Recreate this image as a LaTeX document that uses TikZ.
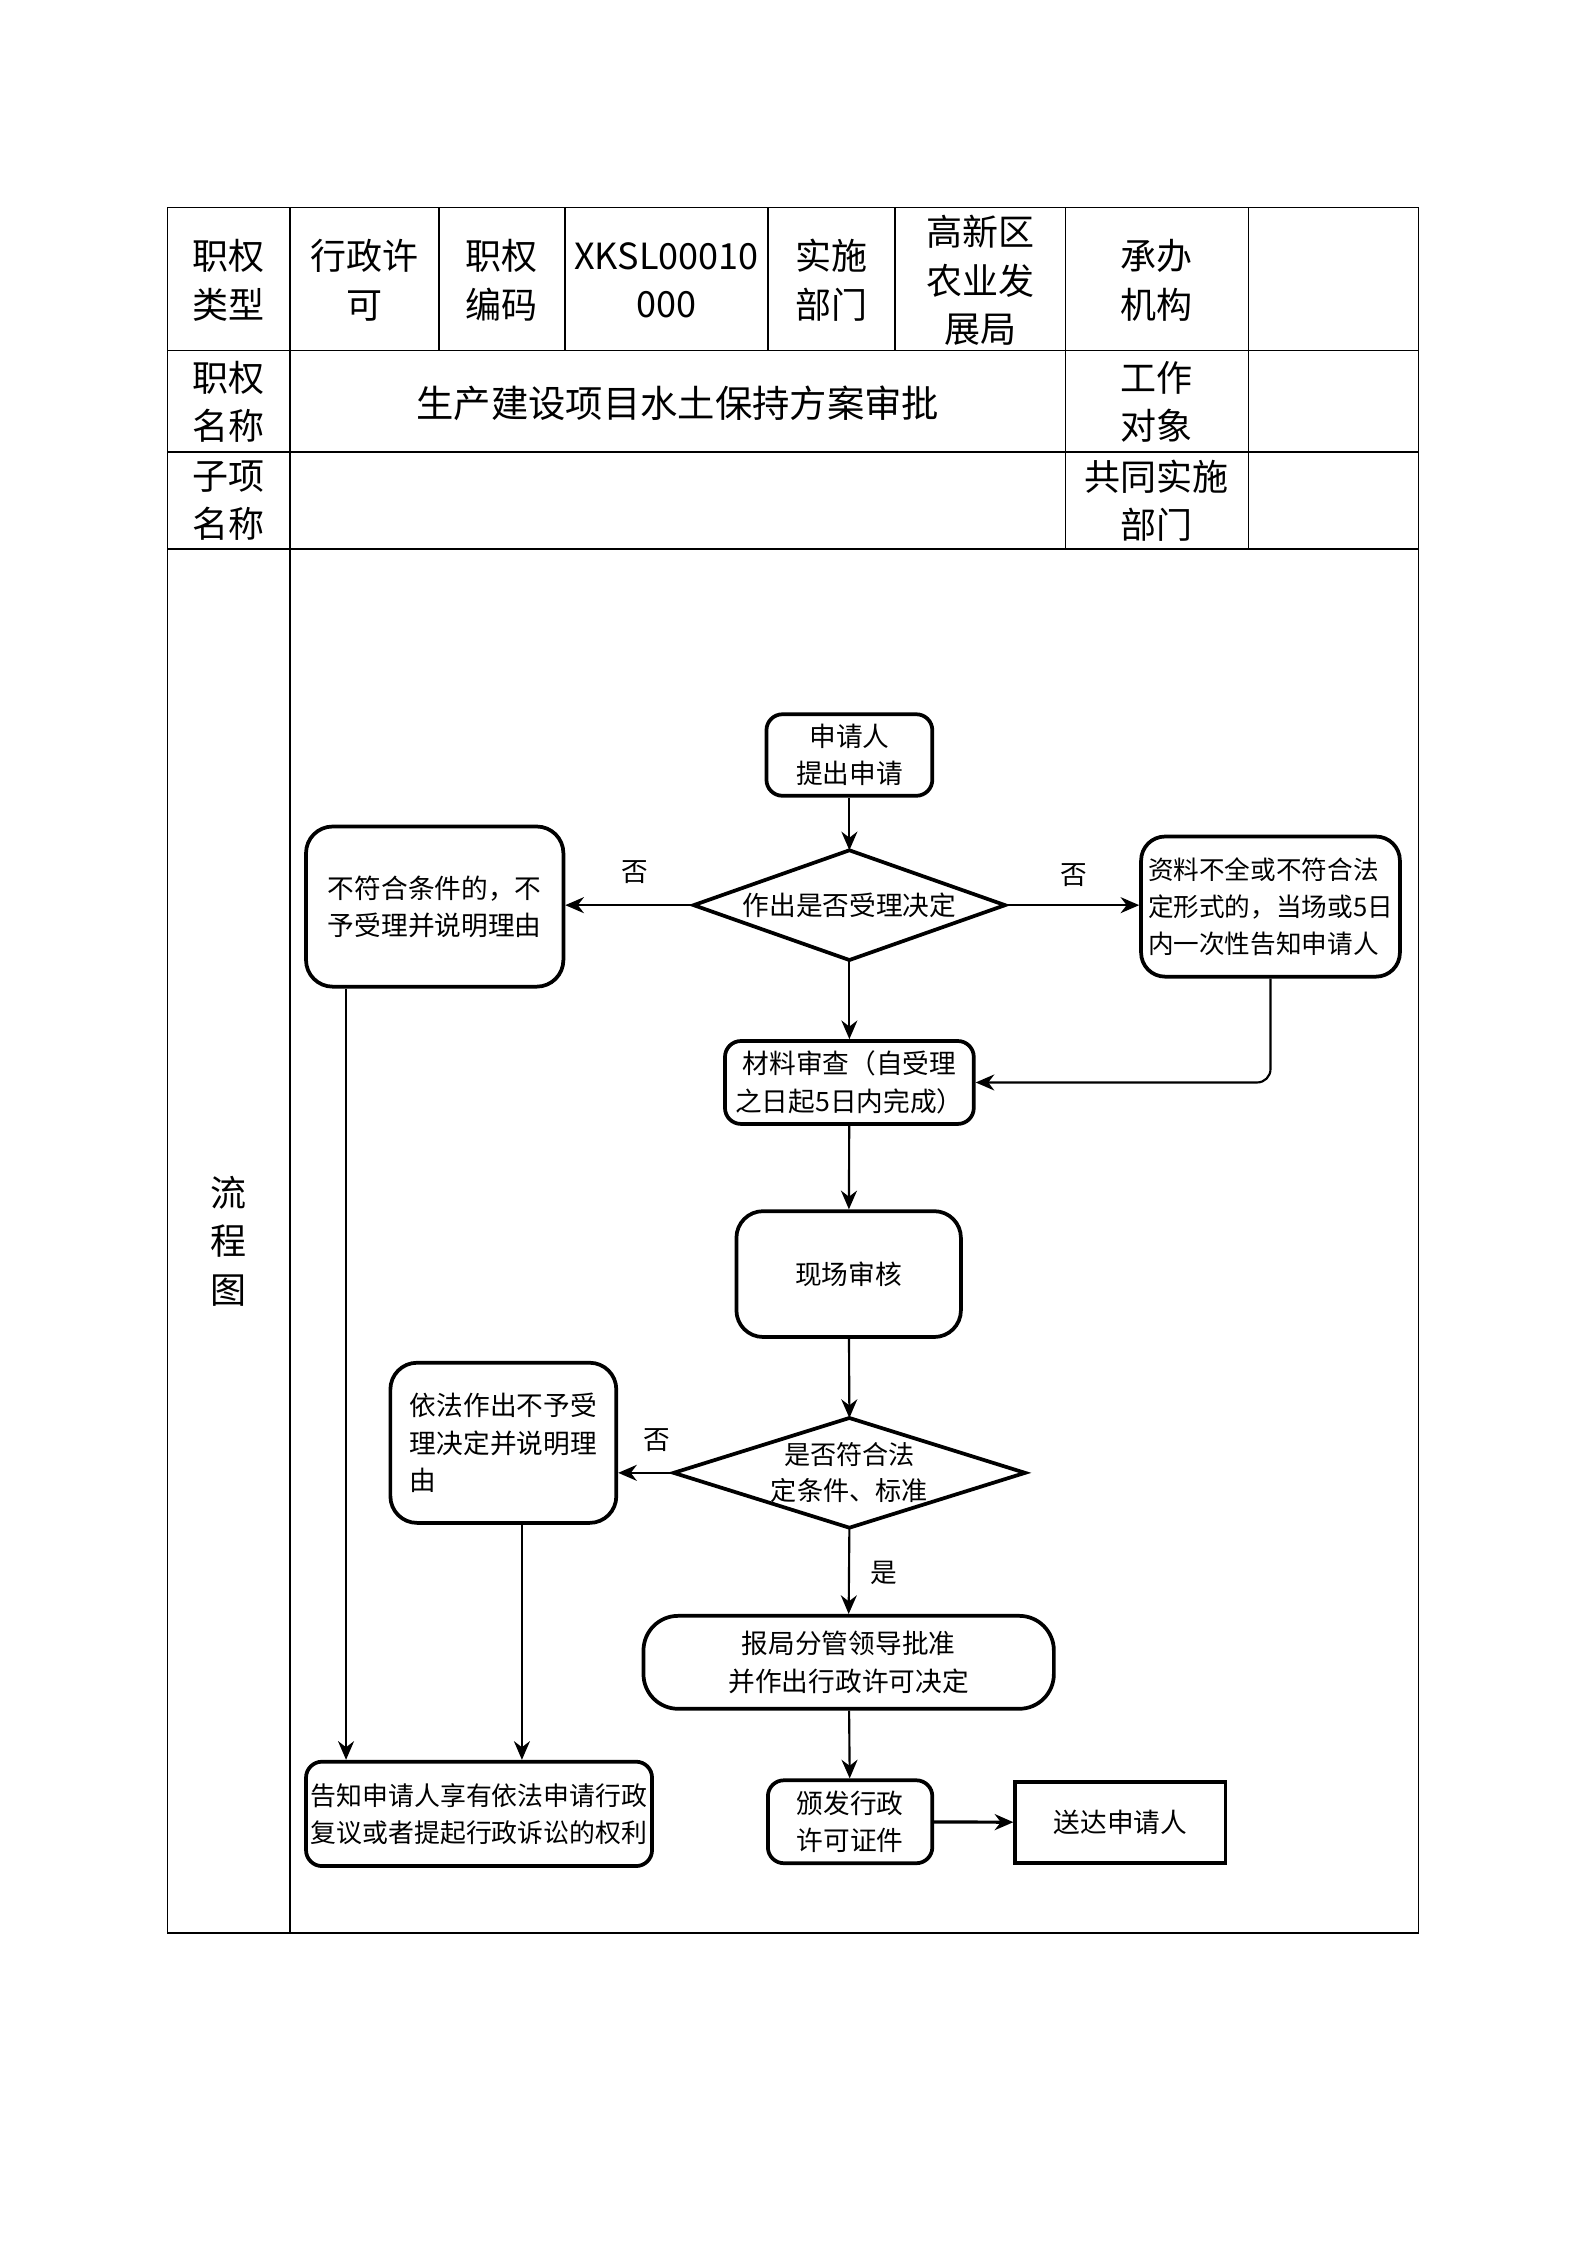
\documentclass[tikz,border=0pt]{standalone}
\usepackage{fontspec}
\setmainfont{Noto Sans CJK SC}
\usetikzlibrary{arrows.meta,shapes.geometric}
\tikzset{
  tline/.style={line width=0.6pt},
  cell/.style={font=\fontsize{13.5}{18.2}\selectfont, align=center, inner sep=0pt},
  sz/.style 2 args={minimum width=#1*0.536pt, minimum height=#2*0.536pt},
  fbox/.style={draw, line width=1.4pt, rounded corners=6pt, font=\fontsize{10}{14}\selectfont, align=center, inner sep=0pt},
  sqbox/.style={draw, line width=1.4pt, font=\fontsize{10}{14}\selectfont, align=center, inner sep=0pt},
  dia/.style={font=\fontsize{10}{14}\selectfont, align=center, inner sep=0pt},
  diaout/.style={line width=1.4pt, line join=miter},
  arr/.style={-{Stealth[length=7pt,width=6pt]}, line width=0.8pt},
  lbl/.style={font=\fontsize{10}{12}\selectfont, inner sep=0pt}
}
\begin{document}
\begin{tikzpicture}[x=0.536pt,y=-0.536pt]
\useasboundingbox (0,0) rectangle (1110,1570);
% ---- table ----
\draw[tline] (117,145) rectangle (992,1352);
\draw[tline] (117,245) -- (992,245);
\draw[tline] (117,316) -- (992,316);
\draw[tline] (117,384) -- (992,384);
\draw[tline] (203,145) -- (203,1352);
\foreach \xx in {307,395,537,626} \draw[tline] (\xx,145) -- (\xx,245);
\draw[tline] (745,145) -- (745,384);
\draw[tline] (873,145) -- (873,384);
% table texts
\node[cell] (t1) at (160,196) {职权\\类型};
\node[cell] (t2) at (255,196) {行政许\\可};
\node[cell] (t3) at (351,196) {职权\\编码};
\node[cell] (t4) at (466,196) {XKSL00010\\000};
\node[cell] (t5) at (581.5,196) {实施\\部门};
\node[cell] (t6) at (685.5,196) {高新区\\农业发\\展局};
\node[cell] (t7) at (809,196) {承办\\机构};
\node[cell] (t8) at (160,281) {职权\\名称};
\node[cell, font=\fontsize{14}{18}\selectfont] (t9) at (474,282) {生产建设项目水土保持方案审批};
\node[cell] (t10) at (809,281) {工作\\对象};
\node[cell] (t11) at (160,350) {子项\\名称};
\node[cell] (t12) at (809,350) {共同实施\\部门};
\node[cell] (t13) at (160,868) {流\\程\\图};
% ---- flowchart ----
\node[fbox, sz={116}{57}] (n1) at (594,528) {申请人\\提出申请};
\node[dia, sz={217}{76}] (d1) at (594,633) {作出是否受理决定};
\draw[diaout] (d1.north) -- (d1.east) -- (d1.south) -- (d1.west) -- cycle;
\node[fbox, rounded corners=10pt, sz={180}{112}] (n3) at (304,634) {不符合条件的，不\\予受理并说明理由};
\node[fbox, rounded corners=9pt, sz={181}{98}, align=left, font=\fontsize{9.6}{14}\selectfont] (n4) at (888.5,634) {资料不全或不符合法\\定形式的，当场或5日\\内一次性告知申请人};
\node[fbox, sz={174}{58}] (n5) at (594,757) {材料审查（自受理\\之日起5日内完成）};
\node[fbox, rounded corners=10pt, sz={157}{88}] (n6) at (593.5,891) {现场审核};
\node[dia, sz={245}{76}, font=\fontsize{9.8}{13.5}\selectfont] (d2) at (594,1030) {是否符合法\\定条件、标准};
\draw[diaout] (d2.north) -- (d2.east) -- (d2.south) -- (d2.west) -- cycle;
\node[fbox, rounded corners=10pt, sz={158}{112}, align=left] (n8) at (352,1009) {依法作出不予受\\理决定并说明理\\由};
\node[fbox, rounded corners=13pt, sz={287}{65}] (n10) at (593.5,1162.5) {报局分管领导批准\\并作出行政许可决定};
\node[fbox, sz={115}{58}] (n11) at (594.5,1274) {颁发行政\\许可证件};
\node[sqbox, sz={147}{57}] (n12) at (783.5,1274.5) {送达申请人};
\node[fbox, sz={242}{73}, font=\fontsize{9.7}{14}\selectfont] (n13) at (335,1268.5) {告知申请人享有依法申请行政\\复议或者提起行政诉讼的权利};
\coordinate (c1) at (242,0);
\coordinate (c2) at (365,0);
% connectors
\draw[arr] (n1) -- (d1.north);
\draw[arr] (d1.west) -- (d1.west -| n3.east);
\draw[arr] (d1.east) -- (d1.east -| n4.west);
\draw[arr] (d1.south) -- (n5.north);
\draw[arr, rounded corners=5pt] (n4.south) |- (n5.east);
\draw[arr] (n5) -- (n6);
\draw[arr] (n6) -- (d2.north);
\draw[arr] (d2.west) -- (d2.west -| n8.east);
\draw[arr] (d2.south) -- (n10.north);
\draw[arr] (n10) -- (n11);
\draw[arr, line width=1.2pt] (n11) -- (n12);
\draw[arr] (n3.south -| c1) -- (n13.north -| c1);
\draw[arr] (n8.south -| c2) -- (n13.north -| c2);
% labels
\node[lbl] (l1) at (444,610) {否};
\node[lbl] (l2) at (751,612) {否};
\node[lbl] (l3) at (459,1007) {否};
\node[lbl] (l4) at (618,1100) {是};
\end{tikzpicture}
\end{document}
